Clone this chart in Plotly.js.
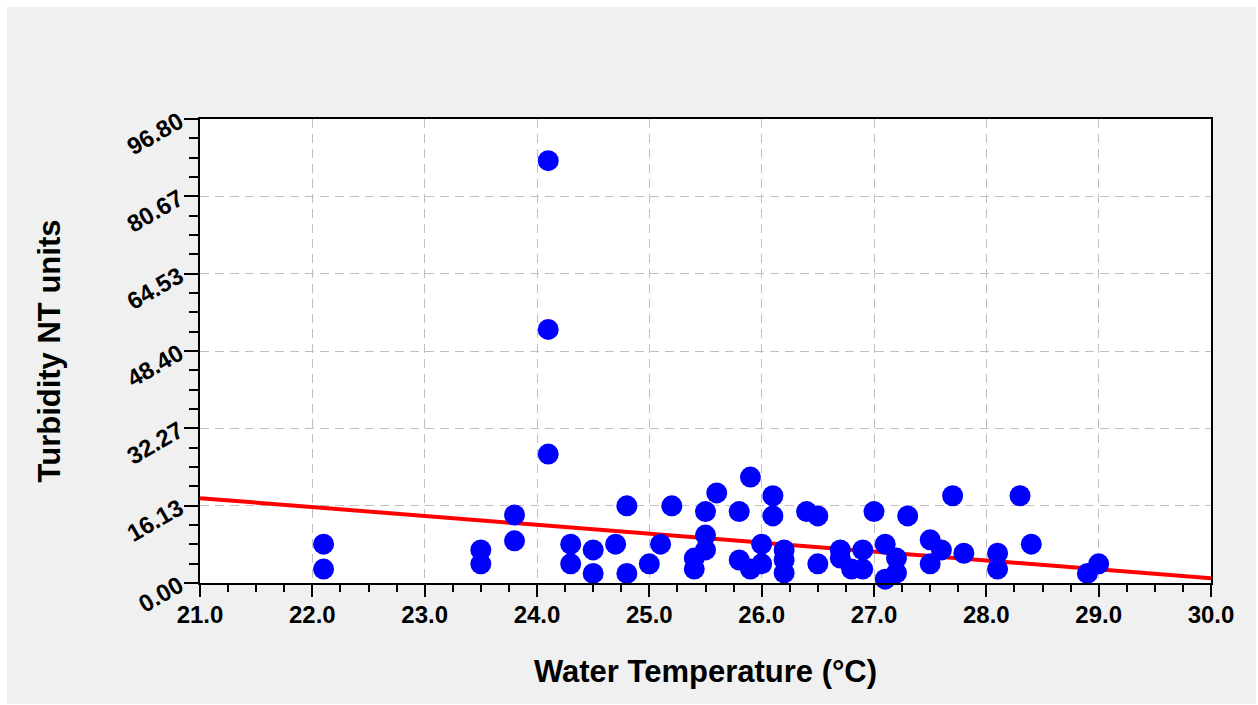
<!DOCTYPE html>
<html>
<head>
<meta charset="utf-8">
<script src="https://cdn.plot.ly/plotly-3.0.1.min.js"></script>
<style>
  html, body { margin: 0; padding: 0; background: #ffffff; width: 1258px; height: 705px; overflow: hidden; }
  #chart { position: absolute; left: 7px; top: 7px; width: 1249px; height: 697px; }
</style>
</head>
<body>
<div id="chart"></div>
<script>
// Water temperature (°C) of each sample
const waterTemp = [
  22.1, 22.1, 23.5, 23.5, 23.8, 23.8, 24.1, 24.1, 24.1, 24.3,
  24.3, 24.5, 24.5, 24.7, 24.8, 24.8, 25.0, 25.1, 25.2, 25.4,
  25.4, 25.5, 25.5, 25.5, 25.6, 25.8, 25.8, 25.9, 25.9, 26.0,
  26.0, 26.1, 26.1, 26.2, 26.2, 26.2, 26.4, 26.5, 26.5, 26.7,
  26.7, 26.8, 26.9, 26.9, 27.0, 27.1, 27.1, 27.2, 27.2, 27.3,
  27.5, 27.5, 27.6, 27.7, 27.8, 28.1, 28.1, 28.3, 28.4, 28.9,
  29.0
];
// Turbidity (NT units) of each sample
const turbidity = [
  8.1, 2.9, 6.9, 4.0, 14.2, 8.8, 88.1, 52.9, 26.9, 8.1,
  4.0, 6.9, 2.0, 8.1, 16.1, 2.0, 4.0, 8.1, 16.1, 5.2,
  2.9, 14.9, 10.0, 6.9, 18.8, 14.9, 4.8, 22.1, 2.9, 8.1,
  4.0, 18.2, 14.0, 6.9, 4.8, 2.1, 14.9, 14.0, 4.0, 6.9,
  5.2, 2.9, 6.9, 2.9, 14.9, 8.1, 0.8, 5.2, 2.1, 14.0,
  9.0, 4.0, 6.9, 18.2, 6.2, 6.2, 2.9, 18.2, 8.1, 2.0,
  4.0
];
// Fitted regression line end points
const fitX = [21.0, 30.0];
const fitY = [17.7, 1.0];

// Axis ticks
const xTickVals = [21, 22, 23, 24, 25, 26, 27, 28, 29, 30];
const xTickText = ["21.0", "22.0", "23.0", "24.0", "25.0", "26.0", "27.0", "28.0", "29.0", "30.0"];
const yTickVals = [0, 16.1333, 32.2667, 48.4, 64.5333, 80.6667, 96.8];
const yTickText = ["0.00", "16.13", "32.27", "48.40", "64.53", "80.67", "96.80"];

const fontFam = "Liberation Sans, Arial, sans-serif";

const traces = [
  {
    x: fitX, y: fitY,
    type: "scatter", mode: "lines",
    line: { color: "#ff0000", width: 4 },
    hoverinfo: "skip",
    showlegend: false
  },
  {
    x: waterTemp, y: turbidity,
    type: "scatter", mode: "markers",
    marker: { color: "#0000ff", size: 21, line: { width: 0 } },
    cliponaxis: false,
    showlegend: false
  }
];

const layout = {
  width: 1249, height: 697,
  paper_bgcolor: "#f0f0f0",
  plot_bgcolor: "#ffffff",
  margin: { l: 193, r: 45, t: 112, b: 121, pad: 0 },
  showlegend: false,
  font: { family: fontFam, color: "#000000" },
  xaxis: {
    range: [21, 30],
    tickmode: "array", tickvals: xTickVals, ticktext: xTickText,
    ticks: "outside", ticklen: 12, tickwidth: 2, tickcolor: "#000",
    tickfont: { family: fontFam, size: 24, color: "#000", weight: "bold" },
    ticklabelstandoff: -3,
    showline: true, linecolor: "#000", linewidth: 2, mirror: true,
    showgrid: true, gridcolor: "#c0c0c0", gridwidth: 1, griddash: "9px,6px",
    zeroline: false,
    minor: { dtick: 0.25, ticks: "outside", ticklen: 7, tickwidth: 2, tickcolor: "#000", showgrid: false },
    title: { text: "Water Temperature (°C)", font: { family: fontFam, size: 31, color: "#000", weight: "bold" }, standoff: 34 }
  },
  yaxis: {
    range: [0, 96.8],
    tickmode: "array", tickvals: yTickVals, ticktext: yTickText,
    ticks: "outside", ticklen: 14, tickwidth: 2, tickcolor: "#000",
    tickangle: -30,
    tickfont: { family: fontFam, size: 24, color: "#000", weight: "bold" },
    showline: true, linecolor: "#000", linewidth: 2, mirror: true,
    showgrid: true, gridcolor: "#c0c0c0", gridwidth: 1, griddash: "9px,6px",
    zeroline: false,
    minor: { tickvals: [4.0333, 8.0667, 12.1, 20.1667, 24.2, 28.2333, 36.3, 40.3333, 44.3667, 52.4333, 56.4667, 60.5, 68.5667, 72.6, 76.6333, 84.7, 88.7333, 92.7667], ticks: "outside", ticklen: 9, tickwidth: 2, tickcolor: "#000", showgrid: false },
    title: { text: "Turbidity NT units", font: { family: fontFam, size: 31, color: "#000", weight: "bold" }, standoff: 52 }
  }
};

Plotly.newPlot("chart", traces, layout, { displayModeBar: false, staticPlot: true });
</script>
</body>
</html>
